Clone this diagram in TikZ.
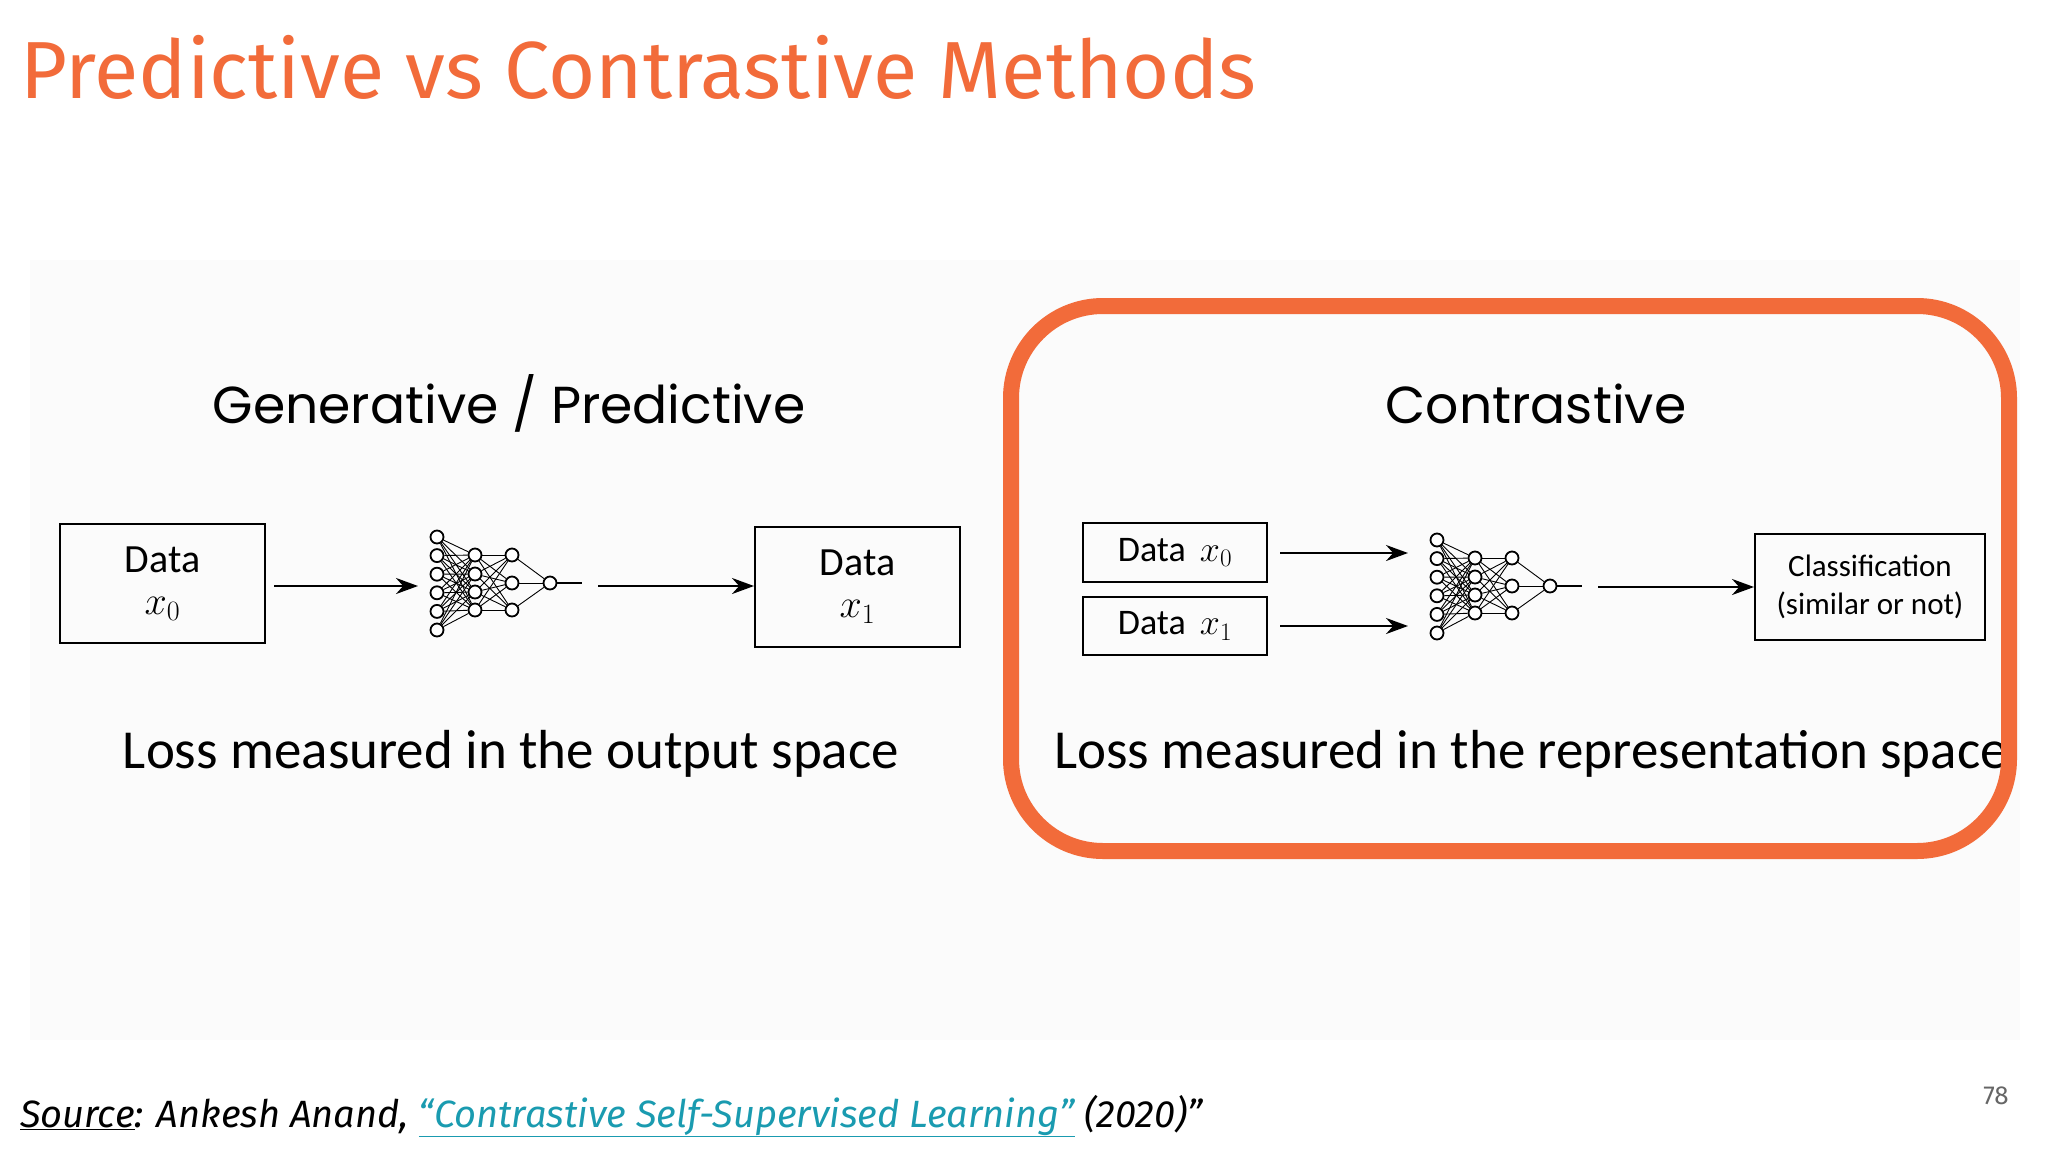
\documentclass[tikz,border=0pt]{standalone}
\usepackage{fix-cm}
\usepackage{fontspec}
\setmainfont{Carlito}
\newfontfamily\titlefont{Fira Sans}
\newfontfamily\geofont{Poppins}
\usetikzlibrary{arrows.meta}
\definecolor{orng}{HTML}{F26B3A}
\definecolor{teal}{HTML}{1A9BB0}
\tikzset{
 box/.style={draw,line width=2pt,inner sep=0pt},
 arr/.style={-{Stealth[length=22pt,width=16pt]},line width=2.4pt},
 neu/.style={circle,draw,line width=1.8pt,minimum size=13pt,inner sep=0pt,fill=white},
 syn/.style={line width=0.9pt}
}
\newcommand{\mynet}[3]{% x, y, prefix
 \begin{scope}[shift={(#1,#2)}]
 \foreach \i/\y in {1/-46,2/-27.4,3/-8.8,4/9.8,5/28.4,6/47} \node[neu] (#3a\i) at (0,\y) {};
 \foreach \i/\y in {1/-28,2/-9,3/9,4/27} \node[neu] (#3b\i) at (38,\y) {};
 \foreach \i/\y in {1/-28,2/0,3/27} \node[neu] (#3c\i) at (75,\y) {};
 \node[neu] (#3o) at (113,0) {};
 \coordinate (#3e) at (145,0);
 \foreach \i in {1,...,6}{\foreach \j in {1,...,4}{\draw[syn] (#3a\i)--(#3b\j);}}
 \foreach \i in {1,...,4}{\foreach \j in {1,...,3}{\draw[syn] (#3b\i)--(#3c\j);}}
 \foreach \j in {1,...,3}{\draw[syn] (#3c\j)--(#3o);}
 \draw[syn,line width=1.2pt] (#3o)--(#3e);
 \end{scope}}
\begin{document}
\begin{tikzpicture}[x=1pt,y=-1pt]
\useasboundingbox (0,0) rectangle (2048,1152);
\fill[white] (0,0) rectangle (2048,1152);
\fill[black!1.5] (30,260) rectangle (2020,1040);
\node[anchor=base west,inner sep=0,text=orng,font=\titlefont\fontsize{81}{90}\selectfont] (title) at (20,98) {Predictive vs Contrastive Methods};
% left panel
\node[anchor=base,inner sep=0,font=\geofont\fontsize{52}{60}\selectfont] (gen) at (509,423) {Generative / Predictive};
\node[box,minimum width=205pt,minimum height=119pt,align=center,font=\fontsize{40}{44}\selectfont] (d0) at (162.5,583.5) {Data\\[-2pt]$x_0$};
\mynet{437}{583}{p}
\node[box,minimum width=205pt,minimum height=120pt,align=center,font=\fontsize{40}{44}\selectfont] (d1) at (857.5,587) {Data\\[-2pt]$x_1$};
\coordinate (a1s) at (274,586);
\draw[arr] (a1s) -- (418,586) coordinate (a1e);
\coordinate (a2s) at (598,586);
\draw[arr] (a2s) -- (d1.west |- a2s);
\node[anchor=base,inner sep=0,font=\fontsize{55}{62}\selectfont] (loss1) at (511,768) {Loss measured in the output space};
% right panel
\node[anchor=base,inner sep=0,font=\geofont\fontsize{52}{60}\selectfont] (con) at (1536,423) {Contrastive};
\node[box,minimum width=184pt,minimum height=59pt,font=\fontsize{36}{40}\selectfont] (c0) at (1175,552.5) {Data\, $x_0$};
\node[box,minimum width=184pt,minimum height=58pt,font=\fontsize{36}{40}\selectfont] (c1) at (1175,626) {Data\, $x_1$};
\mynet{1437}{586}{q}
\node[box,minimum width=230pt,minimum height=106pt,align=center,font=\fontsize{31}{38}\selectfont] (cls) at (1870,587) {Classification\\(similar or not)};
\coordinate (b1s) at (1280,553);
\coordinate (b2s) at (1280,626);
\draw[arr] (b1s) -- (1408,553);
\draw[arr] (b2s) -- (1408,626);
\coordinate (a3s) at (1598,587);
\draw[arr] (a3s) -- (cls.west |- a3s);
\begin{scope}
\clip (1000,0) rectangle (2000,1152);
\node[anchor=base west,inner sep=0,font=\fontsize{55}{62}\selectfont] (loss2) at (1054,768) {Loss measured in the representation space};
\end{scope}
\draw[orng,line width=16pt,rounded corners=92pt] (1011,306) rectangle (2009,851);
% footer
\node[anchor=base west,inner sep=0,font=\titlefont\itshape\fontsize{38}{44}\selectfont] (src) at (20,1127) {\underline{Source}: Ankesh Anand, \textcolor{teal}{\underline{“Contrastive Self-Supervised Learning”}} (2020)”};
\node[anchor=base,inner sep=0,text=black!60,font=\titlefont\fontsize{26}{30}\selectfont] (pg) at (1996,1104) {78};
\end{tikzpicture}
\end{document}
